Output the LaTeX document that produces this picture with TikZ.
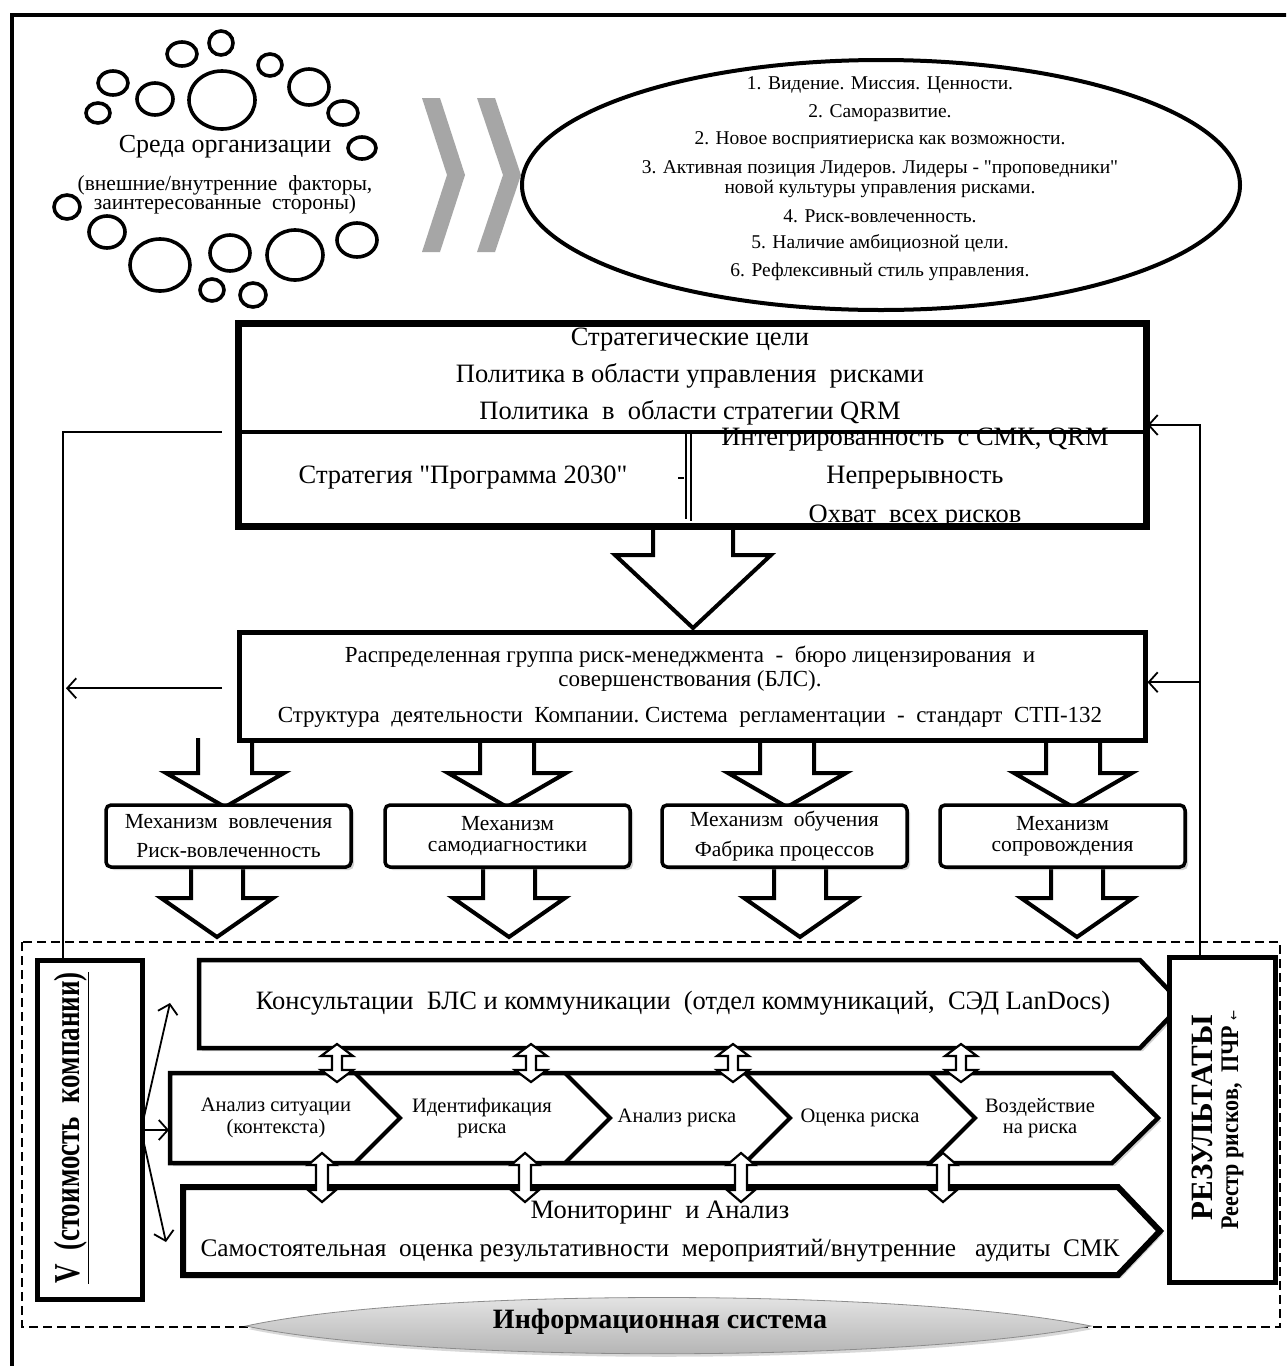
\documentclass[tikz,border=0pt]{standalone}
\usepackage{fontspec}
\setmainfont{Liberation Serif}[Ligatures=TeXOff]
\newfontfamily\symfont{DejaVu Sans}
\usetikzlibrary{arrows.meta,calc,shadows}

\newcommand{\fsz}[1]{\fontsize{#1}{#1}\selectfont}

% block arrow pointing down: #1 centre x, #2 shaft top, #3 head top, #4 tip, #5 half shaft, #6 half head
\newcommand{\downblock}[6]{%
  \draw[blockarr] (#1-#5,#2) -- (#1-#5,#3) -- (#1-#6,#3) -- (#1,#4)
    -- (#1+#6,#3) -- (#1+#5,#3) -- (#1+#5,#2);}
% small two-headed block arrow: #1 x, #2 top tip, #3 bottom tip, #4 half shaft, #5 half head, #6 head length
\newcommand{\udblock}[6]{%
  \draw[udarr] (#1,#2) -- (#1+#5,#2+#6) -- (#1+#4,#2+#6) -- (#1+#4,#3-#6) -- (#1+#5,#3-#6)
    -- (#1,#3) -- (#1-#5,#3-#6) -- (#1-#4,#3-#6) -- (#1-#4,#2+#6) -- (#1-#5,#2+#6) -- cycle;}

\begin{document}
\begin{tikzpicture}[x=1pt,y=-1pt,
  bubble/.style={line width=3.6pt},
  box/.style={draw,line width=4.5pt,fill=white,
    drop shadow={shadow xshift=3pt,shadow yshift=-3pt,opacity=0.35}},
  mech/.style={draw,line width=3.5pt,fill=white,rounded corners=5pt,
    minimum width=245pt,minimum height=62pt,
    drop shadow={shadow xshift=3pt,shadow yshift=-3pt,opacity=0.35}},
  lbl/.style={inner sep=0pt,align=center},
  big/.style={lbl,font=\fsz{26.5}},
  oval/.style={lbl,font=\fsz{19.5}},
  mtext/.style={lbl,font=\fsz{21.5}},
  ptext/.style={lbl,font=\fsz{20.5}},
  vert/.style={inner sep=0pt,rotate=90,anchor=base},
  blockarr/.style={draw,line width=4pt,fill=white,line join=miter},
  udarr/.style={draw,line width=2.2pt,fill=white},
  thinline/.style={line width=1.8pt},
  barb/.style={thinline,-{Straight Barb[length=9pt,width=20pt,line width=1.8pt]}},
  chev/.style={fill=black!35,draw=none},
  procline/.style={line width=4.5pt,line join=miter},
]
\clip (0,0) rectangle (1286,1366);
\fill[white] (0,0) rectangle (1286,1366);

% outer frame
\draw[line width=4pt] (12,15) rectangle (1320,1420);

% ---------- environment of the organisation ----------
\draw[bubble] (221,43) ellipse [x radius=12,y radius=12];
\draw[bubble] (182,54) ellipse [x radius=15,y radius=12];
\draw[bubble] (113,83) ellipse [x radius=15,y radius=12];
\draw[bubble] (98,113) ellipse [x radius=12,y radius=10];
\draw[bubble] (155,99) ellipse [x radius=18,y radius=16];
\draw[bubble] (222,100) ellipse [x radius=33,y radius=29];
\draw[bubble] (270,65) ellipse [x radius=12,y radius=11];
\draw[bubble] (309,87) ellipse [x radius=20,y radius=18];
\draw[bubble] (343,113) ellipse [x radius=15,y radius=12];
\draw[bubble] (362,148) ellipse [x radius=14,y radius=11];
\draw[bubble] (67,207) ellipse [x radius=13,y radius=12];
\draw[bubble] (107,232) ellipse [x radius=18,y radius=16];
\draw[bubble] (160,265) ellipse [x radius=30,y radius=26];
\draw[bubble] (230,253) ellipse [x radius=20,y radius=18];
\draw[bubble] (295,255) ellipse [x radius=28,y radius=25];
\draw[bubble] (357,240) ellipse [x radius=20,y radius=17];
\draw[bubble] (212,290) ellipse [x radius=12,y radius=11];
\draw[bubble] (253,295) ellipse [x radius=13,y radius=12];

\node[lbl,font=\fsz{26}] (env) at (225,147) {Среда организации};
\node[lbl,font=\fsz{21.5}] (envsub) at (225,195) {(внешние/внутренние\ \ факторы,\\[-2pt]
  заинтересованные\ \ стороны)};

% grey chevrons
\fill[chev] (422,98) -- (440,98) -- (465,175) -- (440,252) -- (422,252) -- (447,175) -- cycle;
\fill[chev] (477,98) -- (495,98) -- (521,175) -- (495,252) -- (477,252) -- (503,175) -- cycle;

% ---------- values ellipse ----------
\draw[line width=4pt] (881,185) ellipse [x radius=359,y radius=125];
\node[oval] (v1) at (880,85) {1. Видение. Миссия. Ценности.};
\node[oval] (v2) at (880,113) {2. Саморазвитие.};
\node[oval] (v3) at (880,140) {2. Новое восприятиериска как возможности.};
\node[oval] (v4) at (880,179) {3. Активная позиция Лидеров. Лидеры - "проповедники"\\
  новой культуры управления рисками.};
\node[oval] (v5) at (880,216) {4. Риск-вовлеченность.};
\node[oval] (v6) at (880,243) {5. Наличие амбициозной цели.};
\node[oval] (v7) at (880,272) {6. Рефлексивный стиль управления.};

% ---------- block arrows (drawn beneath the boxes) ----------
\downblock{693}{523}{555}{628}{40}{78}
\downblock{225}{738}{773}{807}{27}{59}
\downblock{507}{738}{773}{807}{27}{59}
\downblock{787}{738}{773}{807}{27}{59}
\downblock{1073}{738}{773}{807}{27}{59}
\downblock{217}{867}{898}{937}{26}{56}
\downblock{509}{867}{898}{937}{26}{56}
\downblock{800}{867}{898}{937}{26}{56}
\downblock{1077}{867}{898}{937}{26}{56}

% ---------- strategic block ----------
\node[box,anchor=north west,minimum width=906pt,minimum height=201pt] (strat) at (237,322) {};
\node[big] (s1) at (690,340) {Стратегические цели};
\node[big] (s2) at (690,376) {Политика в области управления\ \ рисками};
\node[big] (s3) at (690,413) {Политика\ \ в\ \ области стратегии QRM};
\node[big] (s4) at (463,478) {Стратегия "Программа 2030"};
\node[big] (s5) at (915,440) {Интегрированность\ \ с СМК, QRM};
\node[big] (s6) at (915,478) {Непрерывность};
\node[big] (s7) at (915,517) {Охват\ \ всех рисков};
\coordinate (sdiv) at (690,432);
\draw[line width=4.5pt] (strat.west |- sdiv) -- (strat.east |- sdiv);
\draw[line width=1.2pt] (686,434) -- (686,519);
\draw[line width=1.6pt] (691,434) -- (691,521);
\draw[line width=1.2pt] (678,478) -- (684,478);
\draw[line width=4.5pt] (strat.north west) rectangle (strat.south east);

% ---------- risk management group ----------
\node[box,anchor=north west,minimum width=906pt,minimum height=108pt] (bls) at (237,630) {};
\node[lbl,font=\fsz{23}] (b1) at (690,669) {Распределенная группа риск-менеджмента\ \ -\ \ бюро лицензирования\ \ и\\[1pt]
  совершенствования (БЛС).};
\node[lbl,font=\fsz{23}] (b2) at (690,717) {Структура\ \ деятельности\ \ Компании.\ Система\ \ регламентации\ \ -\ \ стандарт\ \ СТП-132};

% ---------- mechanisms ----------
\node[mech] (m1) at (228.5,836) {};
\node[mech] (m2) at (507.5,836) {};
\node[mech] (m3) at (784.5,836) {};
\node[mech] (m4) at (1062.5,836) {};
\node[mtext] (m1t) at (m1) {Механизм\ \ вовлечения\\[8pt]Риск-вовлеченность};
\node[mtext] (m2t) at (m2) {Механизм\\[0pt]самодиагностики};
\node[mtext] (m3t) at (m3) {Механизм\ \ обучения\\[8pt]Фабрика процессов};
\node[mtext] (m4t) at (m4) {Механизм\\[0pt]сопровождения};

% ---------- process area ----------
\draw[line width=2.6pt,dash pattern=on 9pt off 5pt] (22,942) rectangle (1280,1327);

% consultations
\draw[procline,fill=white,drop shadow={shadow xshift=3pt,shadow yshift=-3pt,opacity=0.35}]
  (199,960) -- (1140,960) -- (1182,1004) -- (1140,1048) -- (199,1048) -- cycle;
\node[big] (cons) at (683,1003) {Консультации\ \ БЛС и коммуникации\ \ (отдел коммуникаций,\ \ СЭД LanDocs)};

% risk management process chain
\draw[procline,fill=white,drop shadow={shadow xshift=3pt,shadow yshift=-3pt,opacity=0.35}]
  (170,1073) -- (1112,1073) -- (1158,1118) -- (1112,1163) -- (170,1163) -- cycle;
\foreach \a in {355,565,745,930}
  {\draw[line width=4pt] (\a,1073) -- (\a+45,1118) -- (\a,1163);}
\node[ptext] (p1) at (276,1118) {Анализ ситуации\\[1pt](контекста)};
\node[ptext] (p2) at (482,1118) {Идентификация\\[1pt]риска};
\node[ptext] (p3) at (677,1118) {Анализ риска};
\node[ptext] (p4) at (860,1118) {Оценка риска};
\node[ptext] (p5) at (1040,1118) {Воздействие\\[1pt]на риска};

% monitoring
\draw[line width=6pt,line join=miter,fill=white,drop shadow={shadow xshift=3pt,shadow yshift=-3pt,opacity=0.35}]
  (183,1187) -- (1118,1187) -- (1160,1231) -- (1118,1275) -- (183,1275) -- cycle;
\node[big] (mon1) at (660,1213) {Мониторинг\ \ и Анализ};
\node[lbl,font=\fsz{25.3}] (mon2) at (660,1251) {Самостоятельная\ \ оценка результативности\ \ мероприятий/внутренние\ \ \ аудиты\ \ СМК};

% two-headed links between the rows
\foreach \a in {337,531,733,961}
  {\udblock{\a}{1044}{1082}{5}{16}{12}}
\foreach \a in {322,525,741,943}
  {\udblock{\a}{1153}{1202}{6}{14}{12}}

% company value
\node[box,anchor=north west,minimum width=105pt,minimum height=339pt] (vbox) at (35,958) {};
\node[vert,font=\fsz{27}] (vtxt) at (79,1128)
  {\scalebox{1}[1.35]{\underline{\textbf{V\ \ (стоимость\ \ компании)}}}};
\coordinate (vout) at (141,1130);
\draw[barb] (vout) -- (170,1003);
\draw[barb] (vout) -- (169,1130);
\draw[barb] (vout) -- (166,1242);

% results
\node[box,anchor=north west,minimum width=106pt,minimum height=325pt] (res) at (1167,955) {};
\node[vert,font=\fsz{31}] (r1) at (1212,1118) {\textbf{РЕЗУЛЬТАТЫ}};
\node[vert,font=\fsz{22}] (r2) at (1238,1120)
  {\scalebox{1}[1.15]{\textbf{Реестр рисков,\ \ ПЧР} {\symfont\fsz{12}←}}};

% information system
\shade[top color=black!8,bottom color=black!32,draw=black!45,line width=0.8pt,
  drop shadow={shadow xshift=2pt,shadow yshift=-3pt,opacity=0.3}]
  (246,1326) .. controls (420,1288) and (900,1288) .. (1091,1326)
  .. controls (900,1363) and (420,1363) .. (246,1326) -- cycle;
\node[lbl,font=\fsz{28}] (info) at (660,1322) {\textbf{Информационная система}};

% feedback connectors
\coordinate (lcorner) at (63,432);
\coordinate (rcorner) at (1200,425);
\draw[thinline] (vbox.north -| lcorner) -- (lcorner) -- (222,432);
\draw[barb] ($(bls.west)+(-15,2)$) -- ($(bls.west -| lcorner)+(3,2)$);
\draw[barb] (res.north -| rcorner) -- (rcorner) -- (strat.east |- rcorner);
\draw[barb] ($(bls.east -| rcorner)+(0,-4)$) -- ($(bls.east)+(0,-4)$);
\end{tikzpicture}
\end{document}
